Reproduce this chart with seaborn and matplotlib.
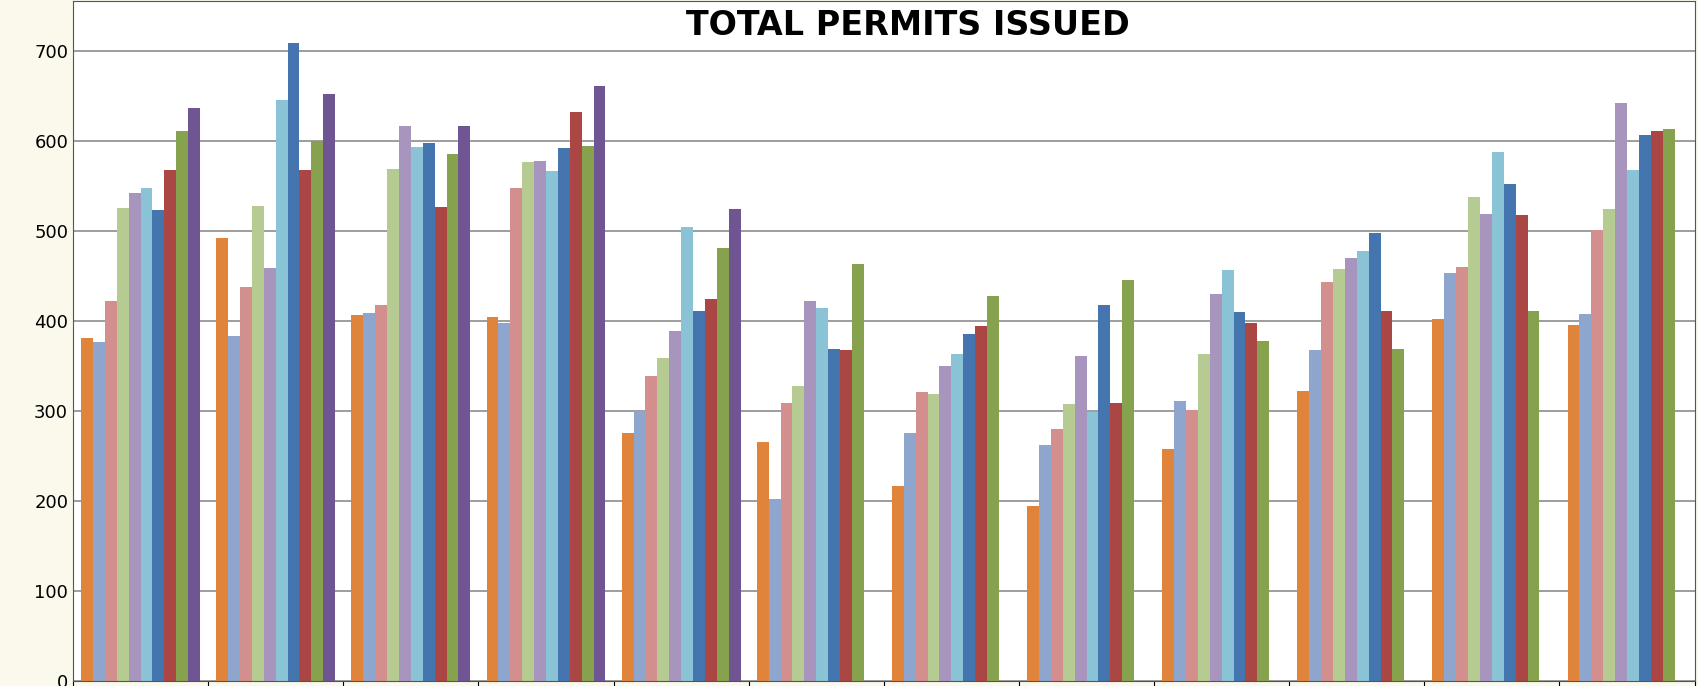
import numpy as np
import pandas as pd
import matplotlib.pyplot as plt
import seaborn as sns

months = ["Jan", "Feb", "Mar", "Apr", "May", "Jun", "Jul", "Aug", "Sep", "Oct", "Nov", "Dec"]
years = ["Y1", "Y2", "Y3", "Y4", "Y5", "Y6", "Y7", "Y8", "Y9", "Y10"]

# permits per month, one list per month (years in order); NaN = no data
permits = [
    [381, 376, 422, 525, 542, 547, 523, 568, 611, 637],
    [492, 383, 437, 527, 459, 645, 709, 567, 600, 652],
    [406, 409, 418, 569, 617, 593, 598, 526, 585, 617],
    [404, 397, 547, 576, 577, 566, 592, 632, 594, 661],
    [275, 300, 339, 358, 388, 504, 411, 424, 481, 524],
    [265, 202, 309, 327, 422, 414, 369, 367, 463, np.nan],
    [216, 275, 321, 319, 350, 363, 385, 394, 427, np.nan],
    [194, 262, 280, 307, 361, 298, 418, 309, 445, np.nan],
    [257, 311, 301, 363, 430, 456, 410, 397, 377, np.nan],
    [322, 367, 443, 457, 470, 478, 497, 411, 368, np.nan],
    [402, 453, 460, 537, 519, 588, 552, 517, 411, np.nan],
    [395, 407, 501, 524, 642, 567, 607, 611, 613, np.nan],
]

colors = ["#E0843C", "#8EA6CE", "#D38F8D", "#B5CB91", "#A795BE",
          "#8BC3D6", "#4575AE", "#AA4644", "#87A24F", "#6F5693"]

rows = []
for m, vals in zip(months, permits):
    for y, v in zip(years, vals):
        rows.append({"month": m, "year": y, "permits": v})
df = pd.DataFrame(rows)

fig = plt.figure(figsize=(16.98, 6.86), dpi=100, facecolor="#FBF8EC")
ax = fig.add_axes([0.043, 0.008, 0.955, 0.99])
ax.set_facecolor("white")

sns.barplot(data=df, x="month", y="permits", hue="year", hue_order=years,
            palette=colors, width=0.88, ax=ax, legend=False, saturation=1)

ax.set_ylim(0, 755)
ax.set_yticks(range(0, 701, 100))
ax.yaxis.grid(True, color="#8C8C8C", linewidth=1.2)
ax.set_axisbelow(True)
ax.set_xlabel("")
ax.set_ylabel("")
ax.set_xticks(np.arange(-0.5, 12, 1))
ax.set_xticklabels([])
ax.tick_params(axis="x", length=5, direction="out")
ax.tick_params(axis="y", labelsize=13, length=0)
for s in ax.spines.values():
    s.set_color("#555555")
ax.text(0.515, 0.965, "TOTAL PERMITS ISSUED", transform=ax.transAxes,
        ha="center", va="center", fontsize=24, fontweight="bold")

fig.savefig("out.png", dpi=100, facecolor=fig.get_facecolor())
